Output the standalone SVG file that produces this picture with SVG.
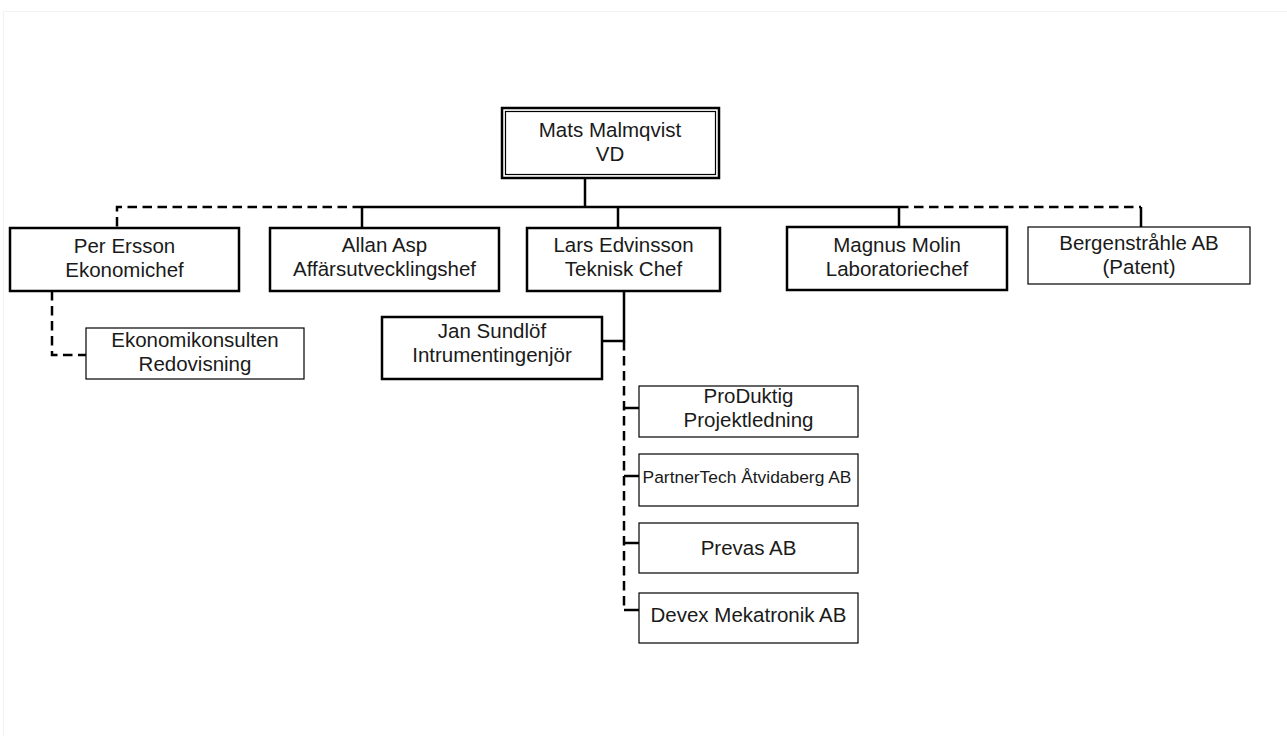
<svg xmlns="http://www.w3.org/2000/svg" width="1287" height="736" viewBox="0 0 1287 736">
<style>
.bg{fill:#ffffff}
.page{fill:none;stroke:#f2f2f2;stroke-width:1}
.thick{fill:#ffffff;stroke:#000;stroke-width:2.5}
.thin{fill:#ffffff;stroke:#000;stroke-width:1.2}
.inner{fill:none;stroke:#000;stroke-width:1.2}
.solid{fill:none;stroke:#000;stroke-width:2.5}
.dash{fill:none;stroke:#000;stroke-width:2.5;stroke-dasharray:9.5 5.5}
text{font-family:"Liberation Sans",Arial,Helvetica,sans-serif;font-size:20.5px;fill:#1a1a1a;text-anchor:middle}
.small{font-size:17.4px}
</style>
<rect class="bg" x="0" y="0" width="1287" height="736"/>
<rect class="page" x="3.5" y="11.5" width="1290" height="730"/>
<g id="connectors">
<path class="solid" d="M585 179 V207"/>
<path class="solid" d="M362 207 H899"/>
<path class="solid" d="M362 207 V228"/>
<path class="solid" d="M618 207 V228"/>
<path class="solid" d="M899 207 V227"/>
<path class="dash" d="M362 207 H117 V228"/>
<path class="dash" d="M899 207 H1141"/>
<path class="solid" d="M1141 207 V227"/>
<path class="dash" d="M52 291 V355 H86"/>
<path class="solid" d="M624 291 V341 H602"/>
<path class="dash" d="M624 341 V610"/>
<path class="solid" d="M624 408 H639"/>
<path class="solid" d="M624 476 H639"/>
<path class="solid" d="M624 543 H639"/>
<path class="solid" d="M624 610 H639"/>
</g>
<g id="mats">
<rect class="thick" x="502" y="108" width="217" height="70"/>
<rect class="inner" x="505.5" y="111.5" width="210" height="63"/>
<text x="610" y="137">Mats Malmqvist</text>
<text x="610" y="161">VD</text>
</g>
<g id="per">
<rect class="thick" x="10" y="228" width="229" height="63"/>
<text x="124.5" y="253">Per Ersson</text>
<text x="124.5" y="277">Ekonomichef</text>
</g>
<g id="allan">
<rect class="thick" x="270" y="228" width="229" height="63"/>
<text x="384.5" y="252">Allan Asp</text>
<text x="384.5" y="276">Affärsutvecklingshef</text>
</g>
<g id="lars">
<rect class="thick" x="527" y="228" width="193" height="63"/>
<text x="623.5" y="252">Lars Edvinsson</text>
<text x="623.5" y="276">Teknisk Chef</text>
</g>
<g id="magnus">
<rect class="thick" x="787" y="227" width="220" height="63"/>
<text x="897" y="252">Magnus Molin</text>
<text x="897" y="276">Laboratoriechef</text>
</g>
<g id="bergen">
<rect class="thin" x="1028" y="227" width="222" height="57"/>
<text x="1139" y="250">Bergenstråhle AB</text>
<text x="1139" y="274">(Patent)</text>
</g>
<g id="ekonomikonsulten">
<rect class="thin" x="86" y="328" width="218" height="51"/>
<text x="195" y="347">Ekonomikonsulten</text>
<text x="195" y="371">Redovisning</text>
</g>
<g id="jan">
<rect class="thick" x="382" y="317" width="220" height="62"/>
<text x="492" y="338">Jan Sundlöf</text>
<text x="492" y="362">Intrumentingenjör</text>
</g>
<g id="produktig">
<rect class="thin" x="639" y="386" width="219" height="51"/>
<text x="748.5" y="403">ProDuktig</text>
<text x="748.5" y="427">Projektledning</text>
</g>
<g id="partnertech">
<rect class="thin" x="639" y="454" width="219" height="52"/>
<text class="small" x="747" y="483">PartnerTech Åtvidaberg AB</text>
</g>
<g id="prevas">
<rect class="thin" x="639" y="523" width="219" height="50"/>
<text x="748.5" y="555">Prevas AB</text>
</g>
<g id="devex">
<rect class="thin" x="639" y="593" width="219" height="50"/>
<text x="748.5" y="622">Devex Mekatronik AB</text>
</g>
</svg>
